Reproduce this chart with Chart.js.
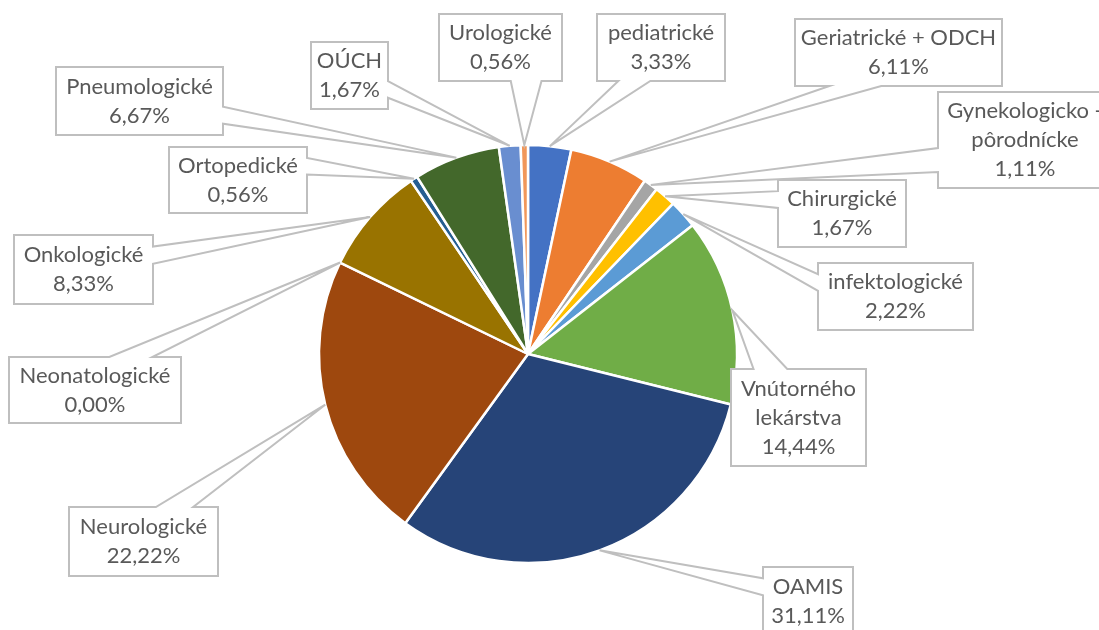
<!DOCTYPE html>
<html lang="sk">
<head>
<meta charset="utf-8">
<title>Oddelenia</title>
<script src="https://cdn.jsdelivr.net/npm/chart.js@4/dist/chart.umd.min.js"></script>
<style>
  html, body { margin: 0; padding: 0; background: #fff; }
  #chart { display: block; }
</style>
</head>
<body>
<canvas id="chart" width="1099" height="630"></canvas>
<script>
// --- data (% of all) ---
const categories = [
    'pediatrické', 'Geriatrické + ODCH', 'Gynekologicko - pôrodnícke', 'Chirurgické',
    'infektologické', 'Vnútorného lekárstva', 'OAMIS', 'Neurologické',
    'Neonatologické', 'Onkologické', 'Ortopedické', 'Pneumologické', 'OÚCH', 'Urologické'
];
const shares = [3.33, 6.11, 1.11, 1.67, 2.22, 14.44, 31.11, 22.22, 0.00, 8.33, 0.56, 6.67, 1.67, 0.56];
const sliceColors = [
    '#4472C4', '#ED7D31', '#A5A5A5', '#FFC000', '#5B9BD5', '#70AD47', '#264478',
    '#9E480E', '#636363', '#997300', '#255E91', '#43682B', '#698ED0', '#F1975A'
];

// callout boxes [left, top, width, height], same order as categories
const calloutBoxes = [
    [597, 14, 128, 67], [795, 19, 207, 67], [938, 92, 174, 96], [778, 180, 128, 67],
    [818, 263, 155, 67], [731, 369, 135, 97], [763, 567, 90, 68], [69, 507, 149, 69],
    [9, 357, 172, 66], [14, 235, 139, 69], [169, 147, 138, 66], [56, 67, 167, 68],
    [311, 42, 77, 67], [439, 14, 123, 67]
];

const FONT = '22px Lato, "Open Sans", sans-serif';
const LINE_H = 29;

function fmtPct(v) {
    return v.toFixed(2).replace('.', ',') + '%';
}

function wrapText(ctx, text, maxW) {
    const words = text.split(' ');
    const lines = [];
    let cur = '';
    words.forEach(w => {
        const test = cur ? cur + ' ' + w : w;
        if (cur && ctx.measureText(test).width > maxW) {
            lines.push(cur);
            cur = w;
        } else {
            cur = test;
        }
    });
    if (cur) lines.push(cur);
    return lines;
}

// wedge-rect callout like the office one: base on the side facing the tip
function calloutPath(ctx, box, tx, ty) {
    const [x, y, w, h] = box;
    const cx = x + w / 2, cy = y + h / 2;
    const dx = tx - cx, dy = ty - cy;
    const vertical = Math.abs(dy) > Math.abs(dx * h / w);
    const pick = (len, neg) => neg ? [len / 6, len * 5 / 12] : [len * 7 / 12, len * 5 / 6];

    ctx.beginPath();
    ctx.moveTo(x, y);
    if (vertical && dy < 0) {
        const [b1, b2] = pick(w, dx < 0);
        ctx.lineTo(x + b1, y); ctx.lineTo(tx, ty); ctx.lineTo(x + b2, y);
    }
    ctx.lineTo(x + w, y);
    if (!vertical && dx > 0) {
        const [b1, b2] = pick(h, dy < 0);
        ctx.lineTo(x + w, y + b1); ctx.lineTo(tx, ty); ctx.lineTo(x + w, y + b2);
    }
    ctx.lineTo(x + w, y + h);
    if (vertical && dy > 0) {
        const [b1, b2] = pick(w, dx < 0);
        ctx.lineTo(x + b2, y + h); ctx.lineTo(tx, ty); ctx.lineTo(x + b1, y + h);
    }
    ctx.lineTo(x, y + h);
    if (!vertical && dx < 0) {
        const [b1, b2] = pick(h, dy < 0);
        ctx.lineTo(x, y + b2); ctx.lineTo(tx, ty); ctx.lineTo(x, y + b1);
    }
    ctx.closePath();
}

const calloutLabels = {
    id: 'calloutLabels',
    afterDatasetsDraw(chart) {
        const ctx = chart.ctx;
        const meta = chart.getDatasetMeta(0);
        ctx.save();
        ctx.font = FONT;
        meta.data.forEach((arc, i) => {
            const p = arc.getProps(['x', 'y', 'startAngle', 'endAngle', 'outerRadius'], true);
            const mid = (p.startAngle + p.endAngle) / 2;
            const tx = p.x + Math.cos(mid) * p.outerRadius;
            const ty = p.y + Math.sin(mid) * p.outerRadius;
            const box = calloutBoxes[i];

            calloutPath(ctx, box, tx, ty);
            ctx.fillStyle = '#FFFFFF';
            ctx.fill();
            ctx.lineWidth = 2;
            ctx.strokeStyle = '#BFBFBF';
            ctx.lineJoin = 'miter';
            ctx.stroke();

            const lines = wrapText(ctx, categories[i], box[2] - 8);
            lines.push(fmtPct(shares[i]));
            const cx = box[0] + box[2] / 2;
            const cy = box[1] + box[3] / 2;
            ctx.fillStyle = '#595959';
            ctx.textAlign = 'center';
            ctx.textBaseline = 'middle';
            lines.forEach((ln, k) => {
                ctx.fillText(ln, cx, cy + (k - (lines.length - 1) / 2) * LINE_H);
            });
        });
        ctx.restore();
    }
};

new Chart(document.getElementById('chart'), {
    type: 'pie',
    data: {
        labels: categories,
        datasets: [{
            data: shares,
            backgroundColor: sliceColors,
            borderColor: '#FFFFFF',
            borderWidth: 2.5,
            radius: 209
        }]
    },
    options: {
        responsive: false,
        animation: false,
        layout: { padding: { top: 78, right: 43, left: 0, bottom: 0 } },
        plugins: {
            legend: { display: false },
            tooltip: { enabled: false }
        }
    },
    plugins: [calloutLabels]
});
</script>
</body>
</html>
